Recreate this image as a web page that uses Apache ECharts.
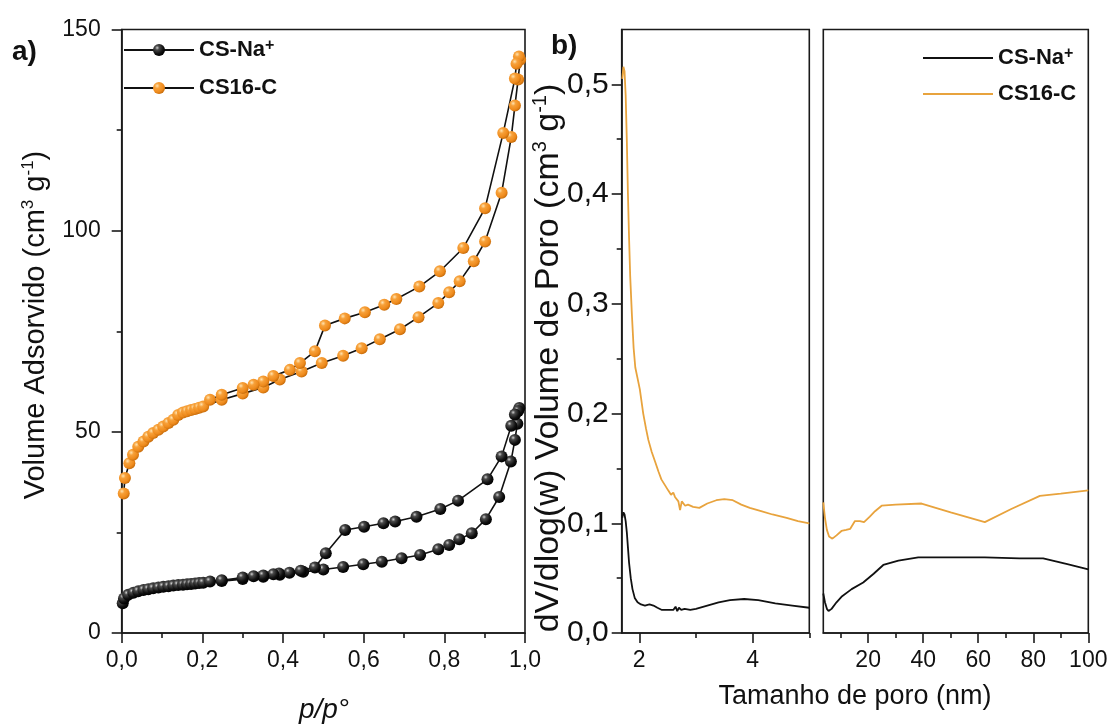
<!DOCTYPE html>
<html><head><meta charset="utf-8">
<script src="https://cdn.jsdelivr.net/npm/echarts@6/dist/echarts.min.js"></script>
<style>html,body{margin:0;padding:0;background:#fff}#c{width:1113px;height:726px}</style>
</head><body><div id="c"></div>
<script>
const FONT = '"Liberation Sans", Arial, sans-serif';

// a) N2 isotherms: [p/p°, V (cm³ g⁻¹)], adsorption then desorption
const csNaIsotherm = [
  [0.0025,7.4],[0.0057,8.6],[0.016,9.5],[0.029,10.0],[0.041,10.4],[0.054,10.7],[0.066,10.9],[0.078,11.1],
  [0.091,11.3],[0.103,11.5],[0.116,11.6],[0.128,11.8],[0.14,11.9],[0.152,12.0],[0.162,12.1],[0.172,12.2],
  [0.182,12.3],[0.192,12.4],[0.202,12.5],[0.248,12.9],[0.30,13.4],[0.351,14.0],[0.392,14.5],[0.45,15.2],
  [0.50,15.8],[0.549,16.4],[0.599,17.1],[0.645,17.7],[0.694,18.6],[0.74,19.4],[0.785,20.8],[0.812,21.9],
  [0.837,23.3],[0.868,24.8],[0.903,28.3],[0.936,33.8],[0.965,42.6],[0.975,48.0],[0.981,52.0],[0.986,55.9],
  [0.983,55.2],[0.975,54.3],[0.966,51.5],[0.942,43.9],[0.907,38.2],[0.834,32.9],[0.79,30.8],[0.731,28.9],
  [0.678,27.7],[0.649,27.3],[0.601,26.4],[0.554,25.6],[0.506,19.8],[0.479,16.3],[0.444,15.5],[0.416,15.0],
  [0.39,14.8],[0.376,14.6],[0.351,14.3],[0.327,14.1],[0.30,13.8],[0.248,13.1],[0.219,12.8]
];
const cs16cIsotherm = [
  [0.005,34.7],[0.008,38.5],[0.019,42.2],[0.028,44.3],[0.041,46.3],[0.054,47.6],[0.066,48.8],[0.078,49.7],
  [0.091,50.5],[0.103,51.3],[0.116,52.2],[0.128,53.0],[0.14,54.2],[0.152,54.8],[0.162,55.1],[0.172,55.4],
  [0.182,55.7],[0.192,56.0],[0.202,56.3],[0.248,58.0],[0.30,59.5],[0.351,61.0],[0.392,63.0],[0.446,65.0],
  [0.496,67.1],[0.549,68.9],[0.595,70.8],[0.640,73.0],[0.690,75.5],[0.736,78.5],[0.785,82.0],[0.812,84.7],
  [0.838,87.4],[0.873,92.4],[0.901,97.3],[0.942,109.4],[0.966,123.3],[0.975,131.1],[0.983,137.6],[0.988,142.5],
  [0.985,143.3],[0.979,141.5],[0.975,137.8],[0.946,124.3],[0.901,105.6],[0.847,95.7],[0.789,89.9],[0.738,86.1],
  [0.681,83.0],[0.651,81.6],[0.603,79.7],[0.553,78.2],[0.504,76.4],[0.479,70.0],[0.442,67.1],[0.417,65.4],
  [0.376,63.9],[0.351,62.5],[0.327,61.7],[0.300,60.9],[0.248,59.2],[0.219,58.0]
];

// b) pore size distribution: [pore size (nm), dV/dlog(w)]
const csNaPsdSmall = [
  [1.70,0.105],[1.72,0.11],[1.74,0.108],[1.76,0.102],[1.78,0.092],[1.80,0.078],[1.82,0.064],[1.85,0.05],
  [1.88,0.04],[1.92,0.032],[1.97,0.028],[2.03,0.026],[2.1,0.025],[2.18,0.026],[2.25,0.025],[2.32,0.023],
  [2.4,0.021],[2.5,0.021],[2.6,0.021],[2.64,0.024],[2.67,0.02],[2.7,0.023],[2.74,0.021],[2.8,0.022],
  [2.9,0.021],[3.0,0.022],[3.2,0.025],[3.4,0.028],[3.6,0.03],[3.85,0.031],[4.1,0.03],[4.4,0.027],
  [4.7,0.025],[5.0,0.023]
];
const cs16cPsdSmall = [
  [1.70,0.505],[1.72,0.516],[1.74,0.512],[1.76,0.49],[1.78,0.45],[1.80,0.40],[1.82,0.36],[1.84,0.325],
  [1.87,0.29],[1.90,0.26],[1.93,0.242],[1.97,0.232],[2.01,0.222],[2.07,0.20],[2.12,0.186],[2.16,0.176],
  [2.22,0.165],[2.28,0.156],[2.34,0.147],[2.39,0.14],[2.45,0.135],[2.51,0.13],[2.56,0.126],[2.60,0.128],
  [2.63,0.124],[2.66,0.125],[2.69,0.12],[2.72,0.112],[2.75,0.12],[2.78,0.121],[2.81,0.116],[2.86,0.117],
  [2.95,0.115],[3.06,0.114],[3.2,0.118],[3.36,0.121],[3.5,0.122],[3.65,0.121],[3.8,0.117],[3.95,0.114],
  [4.15,0.111],[4.35,0.108],[4.6,0.105],[4.8,0.102],[5.0,0.1]
];
const csNaPsdLarge = [
  [3.7,0.036],[4.3,0.028],[5.0,0.022],[5.6,0.020],[6.7,0.022],[8.5,0.028],[10.3,0.033],[14,0.04],
  [18.2,0.046],[22,0.054],[25.5,0.062],[31,0.066],[38.2,0.069],[50,0.069],[62.4,0.069],[75,0.068],
  [83.6,0.068],[92,0.063],[100,0.058]
];
const cs16cPsdLarge = [
  [3.7,0.119],[4.3,0.105],[5.0,0.094],[5.8,0.088],[7.0,0.086],[8.5,0.089],[10.3,0.093],[12.0,0.094],
  [13.5,0.095],[15.2,0.102],[17,0.102],[18.5,0.101],[20.6,0.106],[22.5,0.111],[24.9,0.116],[30,0.117],
  [39.4,0.118],[50,0.11],[62.4,0.101],[72,0.113],[82.4,0.125],[90,0.127],[100,0.13]
];

// tick values
const bYTicks = [0,0.1,0.2,0.3,0.4,0.5];
const bYMinor = [0.05,0.15,0.25,0.35,0.45];
const bLeftXTicks = [2,4];
const bLeftXMinor = [3,5];
const bRightXTicks = [20,40,60,80,100];
const bRightXMinor = [10,30,50,70,90];

const AX = '#1a1a1a';
const comma = (v, d) => v.toFixed(d).replace('.', ',');
const lineAx = {lineStyle:{color:AX, width:1.6}};
const tickAx = (len) => ({show:true, length:len, lineStyle:{color:AX, width:1.6}});

const blackBall = {type:'radial', x:0.35, y:0.32, r:0.7, colorStops:[
  {offset:0, color:'#d0d0d0'},{offset:0.25, color:'#4a4a4a'},{offset:0.7, color:'#111'},{offset:1, color:'#000'}]};
const orangeBall = {type:'radial', x:0.35, y:0.32, r:0.7, colorStops:[
  {offset:0, color:'#ffe3b0'},{offset:0.3, color:'#f7a13a'},{offset:0.75, color:'#ee8a1c'},{offset:1, color:'#c96e0c'}]};

const legendFmt = n => n.indexOf('CS-Na') === 0 ? '{b|CS-Na}{s|+}' : '{b|CS16-C}';
const legendRich = {
  b:{fontSize:22, fontWeight:'bold', fontFamily:FONT, color:'#111', lineHeight:24},
  s:{fontSize:16, fontWeight:'bold', fontFamily:FONT, color:'#111', lineHeight:10, verticalAlign:'top'}
};
const titleRich = (fs) => ({
  n:{fontSize:fs, fontFamily:FONT, fill:'#111', color:'#111', lineHeight:fs+4},
  s:{fontSize:Math.round(fs*0.58), fontFamily:FONT, fill:'#111', color:'#111', lineHeight:Math.round(fs*0.45), verticalAlign:'top'}
});

const chart = echarts.init(document.getElementById('c'), null, {renderer:'canvas'});
chart.setOption({
  animation:false,
  backgroundColor:'#fff',
  textStyle:{fontFamily:FONT},
  grid:[
    {left:121.7, top:29.5, width:403.3, height:603.5, show:true, borderColor:AX, borderWidth:1.6, backgroundColor:'transparent'},
    {left:621.7, top:29.5, width:187.6, height:603.5, show:true, borderColor:AX, borderWidth:1.6, backgroundColor:'transparent'},
    {left:823.3, top:29.5, width:265, height:603.5, show:true, borderColor:AX, borderWidth:1.6, backgroundColor:'transparent'}
  ],
  xAxis:[
    {gridIndex:0, type:'value', min:0, max:1, interval:0.2, axisLine:lineAx, axisTick:tickAx(10),
     minorTick:{show:true, splitNumber:2, length:5, lineStyle:{color:AX, width:1.6}}, splitLine:{show:false},
     axisLabel:{fontSize:23, color:'#111', margin:16, formatter:v=>comma(v,1)}},
    {gridIndex:1, type:'value', min:1.69, max:5, axisLine:lineAx,
     axisTick:Object.assign(tickAx(10), {customValues:bLeftXTicks}), splitLine:{show:false},
     axisLabel:{fontSize:23, color:'#111', margin:16, customValues:bLeftXTicks, formatter:v=>String(v)}},
    {gridIndex:1, type:'value', min:1.69, max:5, position:'bottom', axisLine:{show:false},
     axisTick:Object.assign(tickAx(5), {customValues:bLeftXMinor}), splitLine:{show:false}, axisLabel:{show:false}},
    {gridIndex:2, type:'value', min:3.7, max:100, axisLine:lineAx,
     axisTick:Object.assign(tickAx(10), {customValues:bRightXTicks}), splitLine:{show:false},
     axisLabel:{fontSize:23, color:'#111', margin:16, customValues:bRightXTicks, formatter:v=>String(v)}},
    {gridIndex:2, type:'value', min:3.7, max:100, position:'bottom', axisLine:{show:false},
     axisTick:Object.assign(tickAx(5), {customValues:bRightXMinor}), splitLine:{show:false}, axisLabel:{show:false}}
  ],
  yAxis:[
    {gridIndex:0, type:'value', min:0, max:150, interval:50, axisLine:Object.assign({show:true}, lineAx), axisTick:tickAx(10),
     minorTick:{show:true, splitNumber:2, length:5, lineStyle:{color:AX, width:1.6}}, splitLine:{show:false},
     axisLabel:{fontSize:23, color:'#111', margin:21}},
    {gridIndex:1, type:'value', min:0, max:0.55, axisLine:Object.assign({show:true}, lineAx),
     axisTick:Object.assign(tickAx(10), {customValues:bYTicks}), splitLine:{show:false},
     axisLabel:{fontSize:30, color:'#111', margin:13, customValues:bYTicks, formatter:v=>comma(v,1)}},
    {gridIndex:1, type:'value', min:0, max:0.55, position:'left', axisLine:{show:false},
     axisTick:Object.assign(tickAx(5), {customValues:bYMinor}), splitLine:{show:false}, axisLabel:{show:false}},
    {gridIndex:2, type:'value', min:0, max:0.55, axisLine:{show:false}, axisTick:{show:false},
     axisLabel:{show:false}, splitLine:{show:false}}
  ],
  legend:[
    {orient:'vertical', left:123, top:38, padding:0, itemWidth:70, itemHeight:15, itemGap:16,
     data:['CS-Na+','CS16-C'], formatter:legendFmt, textStyle:{rich:legendRich}},
    {orient:'vertical', left:923, top:46, padding:0, itemWidth:70, itemHeight:2, itemGap:14, icon:'rect',
     data:['CS-Na+ (b)','CS16-C (b)'], formatter:legendFmt, textStyle:{rich:legendRich}}
  ],
  series:[
    {name:'CS-Na+', type:'line', xAxisIndex:0, yAxisIndex:0, data:csNaIsotherm, symbol:'circle', symbolSize:12,
     showSymbol:true, lineStyle:{color:'#111', width:1.6}, itemStyle:{color:blackBall, borderWidth:0}, z:2},
    {name:'CS16-C', type:'line', xAxisIndex:0, yAxisIndex:0, data:cs16cIsotherm, symbol:'circle', symbolSize:12,
     showSymbol:true, lineStyle:{color:'#111', width:1.6}, itemStyle:{color:orangeBall, borderWidth:0}, z:3},
    {name:'CS-Na+ (b)', type:'line', xAxisIndex:1, yAxisIndex:1, data:csNaPsdSmall, symbol:'none',
     lineStyle:{color:'#111', width:1.8}, itemStyle:{color:'#111'}},
    {name:'CS16-C (b)', type:'line', xAxisIndex:1, yAxisIndex:1, data:cs16cPsdSmall, symbol:'none',
     lineStyle:{color:'#e8a33d', width:1.8}, itemStyle:{color:'#e8a33d'}},
    {name:'CS-Na+ (b)', type:'line', xAxisIndex:3, yAxisIndex:3, data:csNaPsdLarge, symbol:'none',
     lineStyle:{color:'#111', width:1.8}, itemStyle:{color:'#111'}},
    {name:'CS16-C (b)', type:'line', xAxisIndex:3, yAxisIndex:3, data:cs16cPsdLarge, symbol:'none',
     lineStyle:{color:'#e8a33d', width:1.8}, itemStyle:{color:'#e8a33d'}}
  ],
  graphic:[
    {type:'text', x:12, y:52, style:{text:'a)', font:'bold 28px '+FONT, fill:'#111', verticalAlign:'middle'}},
    {type:'text', x:551, y:46, style:{text:'b)', font:'bold 28px '+FONT, fill:'#111', verticalAlign:'middle'}},
    {type:'text', x:36, y:325, rotation:Math.PI/2,
     style:{text:'{n|Volume Adsorvido (cm}{s|3}{n| g}{s|-1}{n|)}', rich:titleRich(29), align:'center', verticalAlign:'middle', fill:'#111'}},
    {type:'text', x:549, y:358, rotation:Math.PI/2,
     style:{text:'{n|dV/dlog(w) Volume de Poro (cm}{s|3}{n| g}{s|-1}{n|)}', rich:titleRich(34), align:'center', verticalAlign:'middle', fill:'#111'}},
    {type:'text', x:324, y:710, style:{text:'p/p°', font:'italic 28px '+FONT, fill:'#111', align:'center', verticalAlign:'middle'}},
    {type:'text', x:855, y:697, style:{text:'Tamanho de poro (nm)', font:'27px '+FONT, fill:'#111', align:'center', verticalAlign:'middle'}}
  ]
});
</script></body></html>
